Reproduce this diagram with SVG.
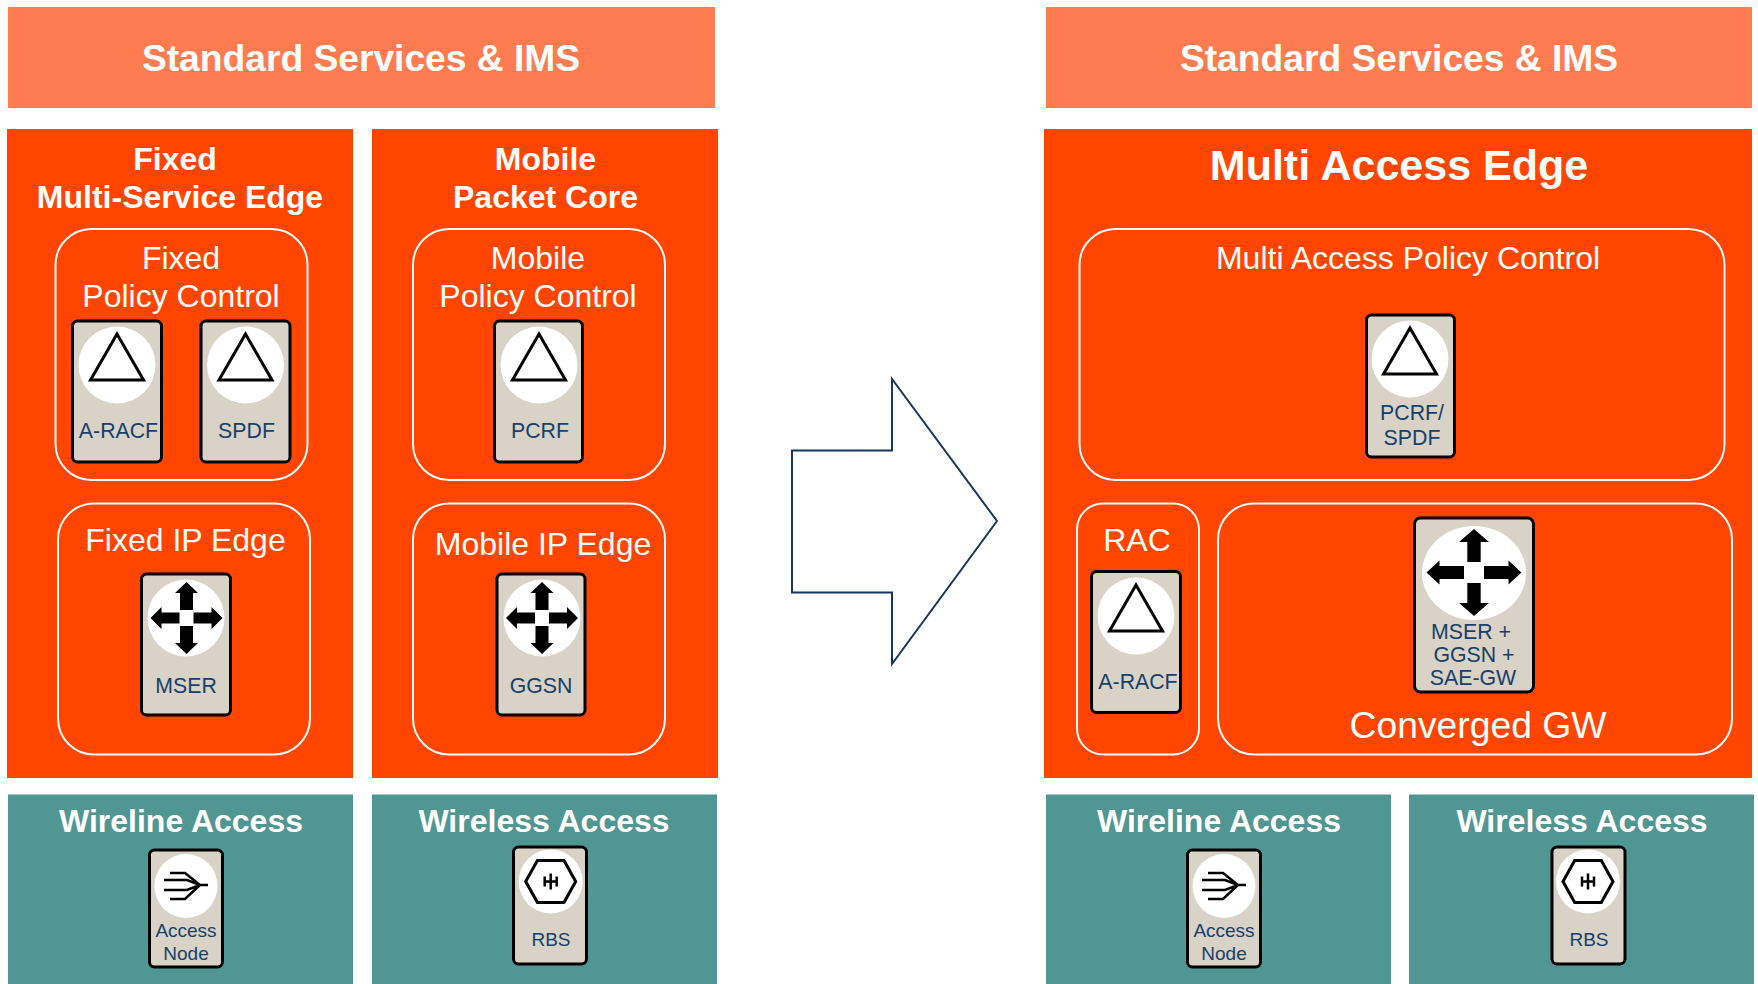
<svg xmlns="http://www.w3.org/2000/svg" width="1758" height="984" viewBox="0 0 1758 984">
<style>
text{font-family:"Liberation Sans",Arial,sans-serif;text-anchor:middle}
.banner{fill:#ff7c50}
.panel{fill:#ff4500}
.access{fill:#509692}
.zone{fill:none;stroke:#fff;stroke-width:2}
.box{fill:#d9d2c6;stroke:#000;stroke-width:3}
.t-big{font-size:37.200px;font-weight:bold;fill:#fff}
.t-head{font-size:32px;font-weight:bold;fill:#fff}
.t-zone{font-size:32px;fill:#fff}
.t-node{font-size:21.300px;fill:#17406a}
.t-small{font-size:19px;fill:#17406a}
.ico{fill:none;stroke:#000;stroke-width:3}
</style>
<defs>
<symbol id="tri" overflow="visible"><circle r="38.500" fill="#fff"/><path class="ico" d="M0-31L26.500 15H-26.500Z"/></symbol>
<symbol id="cross" overflow="visible"><path fill="#000" d="M0-36L11.500-25H6.500V-8H-6.500V-25H-11.500ZM0 36L11.500 25H6.500V8H-6.500V25H-11.500ZM-36 0L-25-11V-5.500H-7V5.500H-25V11ZM36 0L25-11V-5.500H7V5.500H25V11Z"/></symbol>
<symbol id="cross-big" overflow="visible"><path fill="#000" d="M0-43.500L15-30.500H6.700V-10.500H-6.700V-30.500H-15ZM0 43.500L15 30.500H6.700V10.500H-6.700V30.500H-15ZM-47.500 0L-34.500-12V-6.400H-10V6.400H-34.500V12ZM47.500 0L34.500-12V-6.400H10V6.400H34.500V12Z"/></symbol>
<symbol id="an" overflow="visible"><ellipse rx="31.500" ry="32" fill="#fff"/><path fill="none" stroke="#000" stroke-width="2.500" d="M-16-13H-1L14-1H22M-22-6H1L14-1M-22 4H1L14-1M-16 13H-1L14-1"/></symbol>
<symbol id="rbs" overflow="visible"><ellipse rx="32" ry="32" fill="#fff"/><path class="ico" d="M-25 0L-13.300-21H13.300L25 0L13.300 21H-13.300Z"/><path fill="none" stroke="#000" stroke-width="2.500" d="M-7 0H7M-6-5V5M0-8V8M6-5V5"/></symbol>
</defs>

<g id="connectors"><path id="transition-arrow" d="M792 450.500H892V379L997 521L892 664V592.500H792Z" fill="#fff" stroke="#17375e" stroke-width="2"/></g>

<g id="left-banner"><rect class="banner" x="8" y="7" width="707" height="101"/><text class="t-big" x="361" y="71">Standard Services &amp; IMS</text></g>
<g id="fixed-panel"><rect class="panel" x="7" y="129" width="346" height="649"/><text class="t-head" x="175" y="170">Fixed</text><text class="t-head" x="180" y="208">Multi-Service Edge</text></g>
<g id="mobile-panel"><rect class="panel" x="372" y="129" width="346" height="649"/><text class="t-head" x="545.500" y="170">Mobile</text><text class="t-head" x="545.500" y="208">Packet Core</text></g>
<g id="fixed-policy"><rect class="zone" x="55.500" y="229" width="252" height="251" rx="36"/><text class="t-zone" x="181" y="269">Fixed</text><text class="t-zone" x="181" y="307">Policy Control</text></g>
<g id="a-racf-1"><rect class="box" x="72.500" y="321" width="89" height="141" rx="5"/><use href="#tri" x="117" y="365"/><text class="t-node" x="118.500" y="438">A-RACF</text></g>
<g id="spdf"><rect class="box" x="201" y="321" width="89" height="141" rx="5"/><use href="#tri" x="245.500" y="365"/><text class="t-node" x="246.500" y="438">SPDF</text></g>
<g id="fixed-ip-edge"><rect class="zone" x="58" y="503.500" width="252" height="251" rx="36"/><text class="t-zone" x="185.500" y="551">Fixed IP Edge</text></g>
<g id="mser"><rect class="box" x="141.500" y="574" width="89" height="141" rx="5"/><circle cx="186" cy="618" r="38.500" fill="#fff"/><use href="#cross" x="186.500" y="618"/><text class="t-node" x="186" y="693">MSER</text></g>
<g id="mobile-policy"><rect class="zone" x="413" y="229" width="252" height="251" rx="36"/><text class="t-zone" x="538" y="269">Mobile</text><text class="t-zone" x="538" y="307">Policy Control</text></g>
<g id="pcrf"><rect class="box" x="494.500" y="321" width="88" height="141" rx="5"/><use href="#tri" x="539" y="365"/><text class="t-node" x="540" y="438">PCRF</text></g>
<g id="mobile-ip-edge"><rect class="zone" x="413" y="503.500" width="252" height="251" rx="36"/><text class="t-zone" x="543" y="555">Mobile IP Edge</text></g>
<g id="ggsn"><rect class="box" x="497" y="574" width="88" height="141" rx="5"/><circle cx="542" cy="618" r="38.500" fill="#fff"/><use href="#cross" x="542" y="618"/><text class="t-node" x="541" y="693">GGSN</text></g>
<g id="wireline-left"><rect class="access" x="8" y="794.500" width="345" height="189.500"/><text class="t-head" x="181" y="832">Wireline Access</text></g>
<g id="access-node-left"><rect class="box" x="149.500" y="850" width="73" height="117" rx="5"/><use href="#an" x="186" y="886"/><text class="t-small" x="186" y="937">Access</text><text class="t-small" x="186" y="960">Node</text></g>
<g id="wireless-left"><rect class="access" x="372" y="794.500" width="345" height="189.500"/><text class="t-head" x="544" y="832">Wireless Access</text></g>
<g id="rbs-left"><rect class="box" x="513.500" y="847" width="73" height="117" rx="5"/><use href="#rbs" x="550.700" y="881.500"/><text class="t-small" x="551" y="946">RBS</text></g>

<g id="right-banner"><rect class="banner" x="1046" y="7" width="706" height="101"/><text class="t-big" x="1399" y="71">Standard Services &amp; IMS</text></g>
<g id="multi-access-panel"><rect class="panel" x="1044" y="129" width="708" height="649"/><text x="1399" y="180" font-size="43" font-weight="bold" fill="#fff">Multi Access Edge</text></g>
<g id="multi-policy"><rect class="zone" x="1079.500" y="229" width="645" height="251" rx="36"/><text class="t-zone" x="1408" y="269">Multi Access Policy Control</text></g>
<g id="pcrf-spdf"><rect class="box" x="1366.500" y="315" width="88" height="142" rx="5"/><use href="#tri" x="1410" y="359"/><text class="t-node" x="1412" y="420">PCRF/</text><text class="t-node" x="1412" y="445">SPDF</text></g>
<g id="rac"><rect class="zone" x="1077" y="503.500" width="122" height="251" rx="26"/><text class="t-zone" x="1137" y="551">RAC</text></g>
<g id="a-racf-2"><rect class="box" x="1091.500" y="571.500" width="89" height="141" rx="5"/><use href="#tri" x="1136" y="616"/><text class="t-node" x="1138" y="689">A-RACF</text></g>
<g id="converged-gw"><rect class="zone" x="1218" y="503.500" width="514" height="251" rx="36"/><text x="1478" y="738" font-size="37.300" fill="#fff">Converged GW</text></g>
<g id="mser-ggsn-sae"><rect class="box" x="1414.500" y="518" width="119" height="174" rx="6"/><ellipse cx="1474" cy="573" rx="52" ry="47" fill="#fff"/><use href="#cross-big" x="1474" y="572.500"/><text class="t-node" x="1471" y="639">MSER +</text><text class="t-node" x="1474" y="662">GGSN +</text><text class="t-node" x="1473" y="685">SAE-GW</text></g>
<g id="wireline-right"><rect class="access" x="1046" y="794.500" width="345" height="189.500"/><text class="t-head" x="1219" y="832">Wireline Access</text></g>
<g id="access-node-right"><rect class="box" x="1187.500" y="850" width="73" height="117" rx="5"/><use href="#an" x="1224" y="886"/><text class="t-small" x="1224" y="937">Access</text><text class="t-small" x="1224" y="960">Node</text></g>
<g id="wireless-right"><rect class="access" x="1409" y="794.500" width="345" height="189.500"/><text class="t-head" x="1582" y="832">Wireless Access</text></g>
<g id="rbs-right"><rect class="box" x="1552" y="847" width="73" height="117" rx="5"/><use href="#rbs" x="1588" y="881.500"/><text class="t-small" x="1589" y="946">RBS</text></g>
</svg>
